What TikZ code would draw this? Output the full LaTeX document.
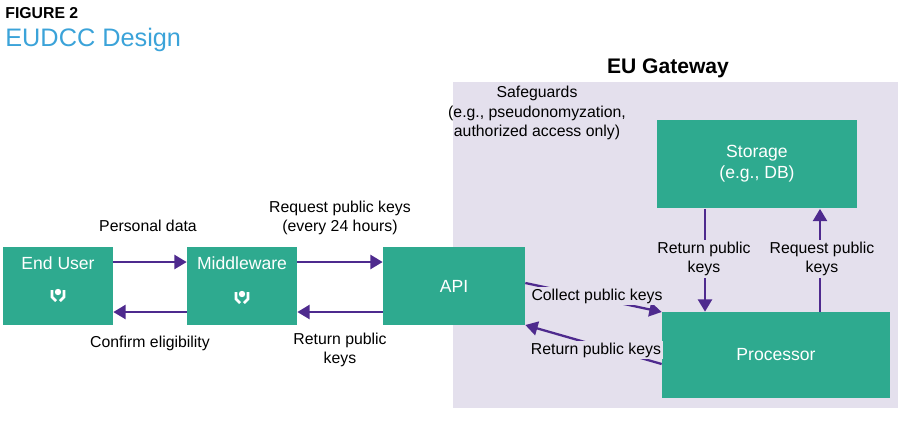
\documentclass[tikz,border=0pt]{standalone}
\usepackage{fontspec}
\setmainfont{Liberation Sans}
\usetikzlibrary{arrows.meta,calc}
\definecolor{boxteal}{HTML}{2EAA8F}
\definecolor{arrowpurple}{HTML}{4E2A8E}
\definecolor{gatewaybg}{HTML}{E4E0ED}
\definecolor{titleblue}{HTML}{3BA3D9}
\tikzset{
  block/.style={fill=boxteal,text=white,font=\normalsize,align=center,inner sep=0pt},
  flow/.style={draw=arrowpurple,line width=1.3pt,-{Triangle[length=7pt,width=8pt]}},
  lbl/.style={font=\small,align=center,inner sep=1pt,fill=none}
}
\newcommand{\careicon}[1]{%
  \fill[white] ($(#1)+(0,-4)$) circle (3.2);
  \draw[white,line width=1.6pt] ($(#1)+(-6,-6)$) -- ($(#1)+(-6,1)$) -- ($(#1)+(-2,5)$);
  \draw[white,line width=1.6pt] ($(#1)+(6,-6)$) -- ($(#1)+(6,1)$) -- ($(#1)+(2,5)$);
}
\begin{document}
\begin{tikzpicture}[x=0.02cm,y=-0.02cm]
  \useasboundingbox (0,0) rectangle (900,420);
  % header
  \node[anchor=north west,font=\small\bfseries,inner sep=0pt] (fig) at (5,7) {FIGURE 2};
  \node[anchor=north west,font=\Large,text=titleblue,inner sep=0pt] (ttl) at (5,28) {EUDCC Design};
  % gateway area
  \fill[gatewaybg] (453,82) rectangle (898,408);
  \node[font=\large\bfseries] (gw) at (668,68) {EU Gateway};
  \node[lbl] (safe) at (537,113) {Safeguards\\(e.g., pseudonomyzation,\\authorized access only)};
  % blocks
  \node[block,minimum width=2.2cm,minimum height=1.56cm] (user) at (58,286) {End User\\[14pt]};
  \node[block,minimum width=2.2cm,minimum height=1.56cm] (mid) at (242,286) {Middleware\\[14pt]};
  \node[block,minimum width=2.84cm,minimum height=1.56cm] (api) at (454,286) {API};
  \node[block,minimum width=4.02cm,minimum height=1.78cm] (store) at (757,164) {Storage\\(e.g., DB)};
  \node[block,minimum width=4.56cm,minimum height=1.72cm] (proc) at (776,355) {Processor};
  \careicon{58,296}
  \careicon{242,298}
  % connectors
  \draw[flow] (user.east |- 0,262) -- (mid.west |- 0,262);
  \draw[flow] (mid.west |- 0,312) -- (user.east |- 0,312);
  \draw[flow] (mid.east |- 0,262) -- (api.west |- 0,262);
  \draw[flow] (api.west |- 0,312) -- (mid.east |- 0,312);
  \draw[flow] (api.east |- 0,283) -- (proc.west |- 0,312);
  \draw[flow] (proc.west |- 0,364) -- (api.east |- 0,325);
  \draw[flow] (store.south -| 705,0) -- (proc.north -| 705,0);
  \draw[flow] (proc.north -| 820,0) -- (store.south -| 820,0);
  % labels
  \node[lbl] (l1) at (148,226) {Personal data};
  \node[lbl] (l2) at (150,343) {Confirm eligibility};
  \node[lbl] (l3) at (340,218) {Request public keys\\(every 24 hours)};
  \node[lbl] (l4) at (340,350) {Return public\\keys};
  \node[lbl,fill=gatewaybg] (l5) at (597,296) {Collect public keys};
  \node[lbl,fill=gatewaybg] (l6) at (596,350) {Return public keys};
  \node[lbl,fill=gatewaybg] (l7) at (704,259) {Return public\\keys};
  \node[lbl,fill=gatewaybg] (l8) at (822,259) {Request public\\keys};
\end{tikzpicture}
\end{document}
